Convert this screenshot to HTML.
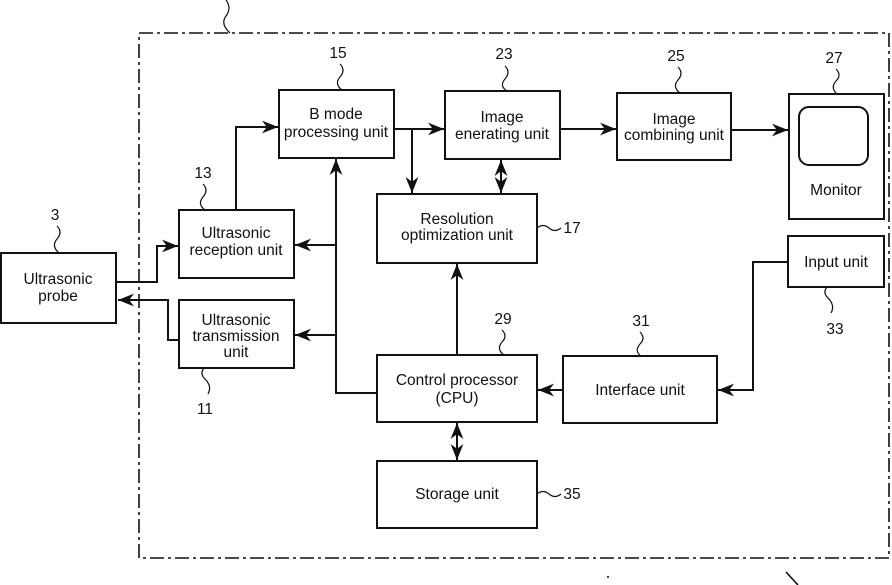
<!DOCTYPE html>
<html><head><style>body{margin:0;background:#fff}svg{display:block}text{font-family:"Liberation Sans",sans-serif;font-size:15.5px;fill:#111;text-anchor:middle}</style></head>
<body>
<svg width="892" height="585" viewBox="0 0 892 585" xmlns="http://www.w3.org/2000/svg">
<defs><marker id="a" viewBox="0 0 10 10" refX="10" refY="5" markerWidth="8" markerHeight="8" orient="auto-start-reverse"><path d="M0,1 L10,5 L0,9 L3,5Z" fill="#111"/></marker></defs>
<g fill="none" stroke="#111" stroke-width="2">
<path d="M139,33 H889 V558 H139 Z" stroke-width="1.6" stroke-dasharray="14,4,3,4"/>
<path d="M226,0 q6,8 0,16 q-6,8 4,17" stroke-width="1.2"/>
<path d="M786,572 L798,585" stroke-width="1.6"/>
<rect x="1" y="253" width="115" height="70"/>
<rect x="179" y="210" width="115" height="68"/>
<rect x="179" y="300" width="115" height="68"/>
<rect x="279" y="90" width="115" height="68"/>
<rect x="445" y="91" width="115" height="68"/>
<rect x="617" y="93" width="114" height="67"/>
<rect x="789" y="94" width="95" height="125"/>
<rect x="799" y="107" width="69" height="58" rx="10"/>
<rect x="377" y="194" width="160" height="69"/>
<rect x="788" y="236" width="96" height="51"/>
<rect x="377" y="355" width="160" height="67"/>
<rect x="563" y="356" width="154" height="67"/>
<rect x="377" y="461" width="160" height="67"/>
<path d="M116,282 H157 V246 H178" marker-end="url(#a)"/>
<path d="M179,340 H168 V300 H118" marker-end="url(#a)"/>
<path d="M236,210 V127 H278" marker-end="url(#a)"/>
<path d="M377,393 H336 V159" marker-end="url(#a)"/>
<path d="M336,245 H295" marker-end="url(#a)"/>
<path d="M336,335 H295" marker-end="url(#a)"/>
<path d="M394,129 H444" marker-end="url(#a)"/>
<path d="M412,129 V193" marker-end="url(#a)"/>
<path d="M560,129 H616" marker-end="url(#a)"/>
<path d="M731,130 H788" marker-end="url(#a)"/>
<path d="M501,160 V193" marker-start="url(#a)" marker-end="url(#a)"/>
<path d="M457,355 V264" marker-end="url(#a)"/>
<path d="M563,390 H538" marker-end="url(#a)"/>
<path d="M788,262 H753 V390 H718" marker-end="url(#a)"/>
<path d="M457,423 V460" marker-start="url(#a)" marker-end="url(#a)"/>
<g stroke-width="1.2">
<path d="M57,226 q6,6 0,13 q-6,7 2,14"/>
<path d="M203,184 q6,6 0,13 q-6,7 2,13"/>
<path d="M340,64 q6,6 0,13 q-6,7 2,13"/>
<path d="M505,66 q6,6 0,13 q-6,7 2,12"/>
<path d="M678,67 q6,6 0,13 q-6,7 2,13"/>
<path d="M836,69 q6,6 0,12 q-6,7 1,13"/>
<path d="M537,228 q6,-5 12,0 q6,5 12,0"/>
<path d="M827,287 q-5,6 2,12 q6,7 2,14"/>
<path d="M502,330 q6,6 0,12 q-6,7 2,13"/>
<path d="M640,332 q6,6 0,12 q-6,7 1,12"/>
<path d="M204,368 q-5,6 2,12 q6,7 2,14"/>
<path d="M537,494 q6,-5 12,0 q6,5 12,0"/>
</g>
</g>
<circle cx="608" cy="577" r="1" fill="#111"/>
<text x="55" y="220">3</text>
<text x="203" y="178">13</text>
<text x="338" y="58">15</text>
<text x="504" y="59">23</text>
<text x="676" y="61">25</text>
<text x="834" y="63">27</text>
<text x="572" y="233">17</text>
<text x="835" y="334">33</text>
<text x="503" y="324">29</text>
<text x="641" y="326">31</text>
<text x="205" y="414">11</text>
<text x="572" y="499">35</text>
<text x="58" y="284">Ultrasonic</text><text x="58" y="301">probe</text>
<text x="236" y="238">Ultrasonic</text><text x="236" y="255">reception unit</text>
<text x="236" y="325">Ultrasonic</text><text x="236" y="341">transmission</text><text x="236" y="357">unit</text>
<text x="336" y="119">B mode</text><text x="336" y="137">processing unit</text>
<text x="502" y="122">Image</text><text x="502" y="139">enerating unit</text>
<text x="674" y="124">Image</text><text x="674" y="140">combining unit</text>
<text x="836" y="195">Monitor</text>
<text x="457" y="224">Resolution</text><text x="457" y="240">optimization unit</text>
<text x="836" y="267">Input unit</text>
<text x="457" y="385">Control processor</text><text x="457" y="403">(CPU)</text>
<text x="640" y="395">Interface unit</text>
<text x="457" y="499">Storage unit</text>
</svg>
</body></html>
